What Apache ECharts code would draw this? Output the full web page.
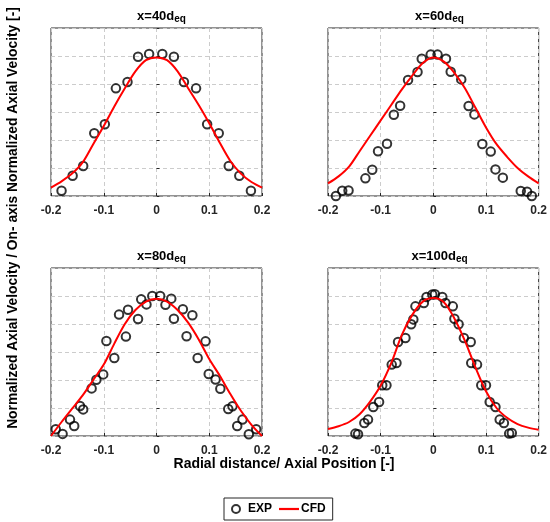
<!DOCTYPE html>
<html><head><meta charset="utf-8">
<script src="https://cdn.jsdelivr.net/npm/echarts@6/dist/echarts.min.js"></script>
<style>html,body{margin:0;padding:0;background:#fff}#c{width:550px;height:522px}</style>
</head><body><div id="c"></div>
<script>
// ---- data ----
const panelLabels = ['40', '60', '80', '100'];
const xTicks = [-0.2, -0.1, 0, 0.1, 0.2];
const yTicks = [0, 0.2, 0.4, 0.6, 0.8, 1.0, 1.2];

const cfdX = [-0.2, -0.18, -0.16, -0.14, -0.12, -0.1, -0.08, -0.06, -0.04, -0.02, 0,
              0.02, 0.04, 0.06, 0.08, 0.1, 0.12, 0.14, 0.16, 0.18, 0.2];
const cfd40Y  = [0.06, 0.105, 0.16, 0.24, 0.37, 0.50, 0.64, 0.77, 0.89, 0.97, 0.99,
                 0.97, 0.89, 0.77, 0.65, 0.52, 0.38, 0.25, 0.16, 0.10, 0.06];
const cfd60Y  = [0.09, 0.14, 0.21, 0.32, 0.43, 0.54, 0.65, 0.76, 0.86, 0.95, 0.99,
                 0.96, 0.88, 0.77, 0.63, 0.49, 0.37, 0.28, 0.20, 0.14, 0.09];
const cfd80Y  = [0.0, 0.10, 0.195, 0.29, 0.40, 0.51, 0.66, 0.80, 0.90, 0.96, 0.98,
                 0.96, 0.90, 0.81, 0.69, 0.55, 0.43, 0.30, 0.18, 0.08, 0.0];
const cfd100Y = [0.05, 0.07, 0.10, 0.155, 0.245, 0.36, 0.52, 0.72, 0.865, 0.96, 0.985,
                 0.955, 0.84, 0.68, 0.49, 0.32, 0.20, 0.13, 0.085, 0.06, 0.045];

const exp40X = [-0.180, -0.159, -0.139, -0.118, -0.098, -0.077, -0.055, -0.035, -0.014,
                0.011, 0.033, 0.052, 0.075, 0.096, 0.118, 0.137, 0.157, 0.179];
const exp40Y = [0.038, 0.145, 0.214, 0.448, 0.512, 0.769, 0.814, 0.995, 1.014,
                1.014, 0.995, 0.814, 0.769, 0.512, 0.448, 0.214, 0.145, 0.038];

const exp60X = [-0.185, -0.173, -0.161, -0.129, -0.116, -0.105, -0.088, -0.075, -0.063, -0.048, -0.030,
                -0.022, -0.005, 0.008, 0.024, 0.033, 0.053, 0.067, 0.078, 0.093, 0.109, 0.118,
                0.132, 0.166, 0.178, 0.187];
const exp60Y = [0.0, 0.037, 0.039, 0.126, 0.188, 0.32, 0.373, 0.58, 0.645, 0.828, 0.886,
                0.98, 1.01, 1.01, 0.98, 0.888, 0.833, 0.643, 0.583, 0.371, 0.317, 0.19,
                0.131, 0.036, 0.031, 0.0];

const exp80X = [-0.191, -0.178, -0.164, -0.156, -0.145, -0.139, -0.123, -0.114, -0.101, -0.095,
                -0.080, -0.071, -0.058, -0.054, -0.035, -0.029, -0.019, -0.008,
                0.007, 0.017, 0.028, 0.033, 0.050, 0.057, 0.068, 0.078, 0.093, 0.099,
                0.112, 0.121, 0.136, 0.144, 0.153, 0.163, 0.175, 0.189];
const exp80Y = [0.048, 0.015, 0.117, 0.071, 0.214, 0.19, 0.34, 0.402, 0.44, 0.679,
                0.557, 0.867, 0.71, 0.902, 0.836, 0.976, 0.94, 1.0,
                1.0, 0.938, 0.981, 0.838, 0.905, 0.712, 0.862, 0.557, 0.676, 0.443,
                0.403, 0.338, 0.193, 0.212, 0.072, 0.117, 0.012, 0.048];

const exp100X = [-0.148, -0.143, -0.131, -0.124, -0.114, -0.103, -0.097, -0.089, -0.079, -0.070,
                 -0.067, -0.053, -0.042, -0.038, -0.034, -0.018, -0.013, -0.002,
                 0.003, 0.017, 0.023, 0.037, 0.040, 0.048, 0.058, 0.071, 0.072, 0.083,
                 0.091, 0.100, 0.107, 0.118, 0.126, 0.134, 0.144, 0.149];
const exp100Y = [0.017, 0.012, 0.093, 0.117, 0.207, 0.243, 0.362, 0.362, 0.51, 0.521,
                 0.671, 0.70, 0.798, 0.833, 0.926, 0.95, 0.993, 1.01,
                 1.012, 0.993, 0.95, 0.926, 0.838, 0.798, 0.70, 0.671, 0.521, 0.51,
                 0.362, 0.362, 0.243, 0.207, 0.117, 0.093, 0.017, 0.021];

const cfdSets = [cfd40Y, cfd60Y, cfd80Y, cfd100Y];
const expSetsX = [exp40X, exp60X, exp80X, exp100X];
const expSetsY = [exp40Y, exp60Y, exp80Y, exp100Y];

// ---- layout ----
const FONT = 'Liberation Sans, Arial, sans-serif';
const grids = [
  {left: 51, top: 28, width: 211, height: 168},
  {left: 328, top: 28, width: 213, height: 168},
  {left: 51, top: 268, width: 211, height: 168},
  {left: 328, top: 268, width: 213, height: 168}
];

const zip = (xs, ys) => xs.map((x, i) => [x, ys[i]]);

const option = {
  animation: false,
  backgroundColor: '#fff',
  title: grids.map((g, i) => ({
    text: '{m|x=' + panelLabels[i] + 'd}{s|eq}',
    left: g.left + g.width / 2,
    top: g.top - 23,
    textAlign: 'center',
    textStyle: {
      rich: {
        m: {fontSize: 13, fontWeight: 'bold', fontFamily: FONT, color: '#000', lineHeight: 14, verticalAlign: 'top'},
        s: {fontSize: 10, fontWeight: 'bold', fontFamily: FONT, color: '#000', lineHeight: 10, verticalAlign: 'bottom', padding: [8, 0, 0, 0]}
      }
    }
  })),
  grid: grids.map(g => Object.assign({show: true, borderColor: '#262626', borderWidth: 1, backgroundColor: '#fff'}, g)),
  xAxis: grids.map((g, i) => ({
    type: 'value', gridIndex: i, min: xTicks[0], max: xTicks[xTicks.length - 1], interval: 0.1,
    axisLine: {show: false},
    axisTick: {show: true, inside: true, length: 3, lineStyle: {color: '#262626'}},
    axisLabel: {
      fontSize: 12, fontWeight: 'bold', fontFamily: FONT, color: '#262626', margin: 9,
      formatter: v => { const t = xTicks.find(a => Math.abs(a - v) < 1e-9); return t === undefined ? '' : String(t); }
    },
    splitLine: {show: true, lineStyle: {color: '#cccccc', type: [4, 3], width: 1}}
  })),
  yAxis: grids.map((g, i) => ({
    type: 'value', gridIndex: i, min: yTicks[0], max: yTicks[yTicks.length - 1], interval: 0.2,
    axisLine: {show: false},
    axisTick: {show: true, inside: true, length: 3, lineStyle: {color: '#262626'}},
    axisLabel: {show: false},
    splitLine: {show: true, lineStyle: {color: '#cccccc', type: [4, 3], width: 1}}
  })),
  legend: {
    data: [
      {name: 'EXP', icon: 'circle', itemStyle: {color: 'rgba(255,255,255,0)', borderColor: '#000', borderWidth: 2}},
      {name: 'CFD', icon: 'path://M0,0 L20,0 L20,2.2 L0,2.2 Z', itemStyle: {color: '#ff0000'}}
    ],
    left: 224, top: 498,
    orient: 'horizontal',
    backgroundColor: '#fff',
    borderColor: '#262626', borderWidth: 1, borderRadius: 0,
    padding: [5, 7],
    itemWidth: 20, itemHeight: 8, itemGap: 7,
    textStyle: {fontSize: 12, fontWeight: 'bold', fontFamily: FONT, color: '#000', padding: [0, 0, 0, -3]}
  },
  graphic: [
    {type: 'text', x: 284, y: 464, style: {text: 'Radial distance/ Axial Position [-]', font: 'bold 14px ' + FONT, fill: '#000', align: 'center', verticalAlign: 'middle'}},
    {type: 'text', x: 13, y: 218, rotation: Math.PI / 2, style: {text: 'Normalized Axial Velocity / On- axis Normalized Axial Velocity [-]', font: 'bold 13.8px ' + FONT, fill: '#000', align: 'center', verticalAlign: 'middle'}}
  ],
  series: []
};

for (let i = 0; i < 4; i++) {
  option.series.push({
    name: 'EXP', type: 'scatter', xAxisIndex: i, yAxisIndex: i,
    data: zip(expSetsX[i], expSetsY[i]),
    symbol: 'circle', symbolSize: 8.5,
    itemStyle: {color: 'rgba(255,255,255,0)', borderColor: '#000', borderWidth: 2},
    z: 2
  });
  option.series.push({
    name: 'CFD', type: 'line', xAxisIndex: i, yAxisIndex: i,
    data: zip(cfdX, cfdSets[i]),
    symbol: 'none', smooth: 0.3,
    lineStyle: {color: '#ff0000', width: 2},
    itemStyle: {color: '#ff0000'},
    z: 3
  });
}

const chart = echarts.init(document.getElementById('c'), null, {renderer: 'canvas'});
chart.setOption(option);
</script>
</body></html>
